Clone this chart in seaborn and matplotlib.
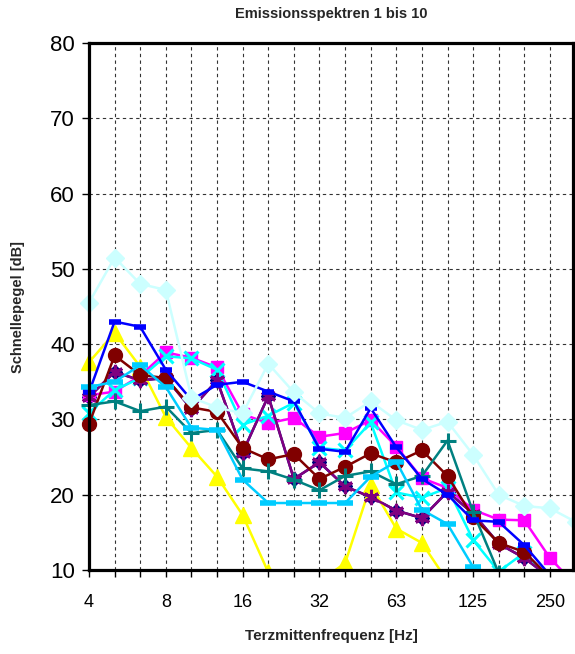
import numpy as np
import pandas as pd
import seaborn as sns
import matplotlib.pyplot as plt
from matplotlib.patches import Rectangle

nan = np.nan

# Terzmittenfrequenzen (category positions 0..19)
freqs = ["4", "5", "6.3", "8", "10", "12.5", "16", "20", "25", "32",
         "40", "50", "63", "80", "100", "125", "160", "200", "250", "315"]
tick_labels = ["4", "", "", "8", "", "", "16", "", "", "32",
               "", "", "63", "", "", "125", "", "", "250"]

# Schnellepegel in dB
s1 = [33.0, 36.3, 35.2, 35.5, 31.4, 35.2, 25.6, 33.1, 22.1, 24.3,
      21.1, 19.7, 17.9, 16.9, 20.4, 17.5, 13.5, 11.6, 9.0, nan]
s2 = [33.2, 33.7, 35.8, 38.9, 38.2, 36.9, 30.7, 29.5, 30.2, 27.7,
      28.2, 29.9, 26.4, 22.2, 20.9, 18.0, 16.7, 16.6, 11.6, 8.0]
s3 = [37.6, 41.5, 37.0, 30.3, 26.2, 22.4, 17.3, 9.7, 5.0, 8.5,
      10.9, 21.3, 15.5, 13.6, 8.5, nan, nan, nan, nan, nan]
s4 = [30.9, 33.9, 35.5, 38.4, 38.1, 36.6, 29.3, 30.5, 32.2, 26.2,
      25.9, 29.6, 20.3, 19.6, 20.9, 14.0, 9.8, 12.3, 8.5, nan]
s5 = [33.0, 36.3, 35.2, 35.5, 31.4, 35.2, 25.6, 33.1, 22.1, 24.3,
      21.1, 19.7, 17.9, 16.9, 20.4, 17.5, 13.5, 11.6, 9.0, nan]
s6 = [29.4, 38.5, 35.9, 35.5, 31.6, 31.0, 26.2, 24.7, 25.4, 22.1,
      23.7, 25.5, 24.3, 25.9, 22.5, 17.0, 13.6, 12.4, 9.0, nan]
s7 = [31.9, 32.4, 31.1, 31.7, 28.2, 28.6, 23.5, 23.1, 22.0, 20.6,
      22.5, 23.1, 21.4, 22.5, 27.2, 17.7, 9.6, 8.0, nan, nan]
s8 = [33.6, 43.0, 42.3, 36.6, 32.6, 34.6, 35.0, 33.7, 32.4, 26.1,
      25.7, 31.5, 26.3, 22.1, 20.0, 16.6, 16.4, 13.3, 9.3, nan]
s9 = [34.3, 35.0, 37.2, 34.3, 28.9, 28.6, 22.0, 18.9, 18.9, 18.9,
      18.9, 22.4, 24.4, 18.0, 16.1, 10.4, 5.0, nan, nan, nan]
s10 = [45.5, 51.5, 48.0, 47.2, 32.9, 31.6, 30.8, 37.4, 33.6, 30.8,
       30.2, 32.4, 29.9, 28.6, 29.7, 25.3, 20.0, 18.5, 18.2, 16.4]

pos = np.arange(len(freqs))

# color, marker, markersize, markeredgewidth (Excel default series look)
styles = [
    (s1, "#000080", "D", 7, 1),
    (s2, "#FF00FF", "s", 9, 1),
    (s3, "#FFFF00", "^", 12, 1),
    (s4, "#00FFFF", "x", 10, 2.2),
    (s5, "#800080", (6, 2, 0), 11, 2.2),
    (s6, "#800000", "o", 10, 1),
    (s7, "#008080", "+", 12, 2.2),
    (s8, "#0000FF", "_", 8, 4),
    (s9, "#00CCFF", "_", 12, 4),
    (s10, "#CCFFFF", "D", 9, 1),
]

sns.set_theme(style="white")
plt.rcParams['font.family'] = ['Liberation Sans', 'DejaVu Sans']

fig = plt.figure(figsize=(5.75, 6.54), dpi=100)
ax = fig.add_axes([0.1548, 0.1284, 0.8417, 0.8059])

for vals, color, marker, ms, mew in styles:
    df = pd.DataFrame({"pos": pos, "dB": vals}).dropna()
    sns.lineplot(data=df, x="pos", y="dB", ax=ax, color=color, marker=marker,
                 markersize=ms, markeredgewidth=mew, markeredgecolor=color,
                 markerfacecolor=color, linewidth=1.8, legend=False)

# let markers at the first category spill over the left axis like the original
for line in ax.lines:
    line.set_clip_path(Rectangle((-0.04, 0), 1.04, 1, transform=ax.transAxes))

ax.set_xlim(0, 18.9)
ax.set_ylim(10, 80)
ax.set_xticks(pos[:19])
ax.set_xticklabels(tick_labels)
ax.set_yticks(range(10, 81, 10))
ax.set_xlabel("")
ax.set_ylabel("")

ax.set_axisbelow(True)
ax.grid(True, color="#333333", linestyle=(0, (3, 3)), linewidth=0.8)
ax.tick_params(axis="x", bottom=True, direction="out", length=5, width=1,
               color="black", labelsize=13, pad=12, labelcolor="black")
ax.tick_params(axis="y", left=True, direction="out", length=5, width=1,
               color="black", labelsize=16, pad=5, labelcolor="black")
for sp in ax.spines.values():
    sp.set_color("black")
    sp.set_linewidth(2.3)

fig.text(0.576, 0.979, "Emissionsspektren 1 bis 10", ha="center", va="center",
         fontsize=10.5, fontweight="bold")
fig.text(0.031, 0.531, "Schnellepegel [dB]", ha="center", va="center",
         rotation=90, fontsize=10.5, fontweight="bold")
fig.text(0.576, 0.027, "Terzmittenfrequenz [Hz]", ha="center", va="center",
         fontsize=11, fontweight="bold")

fig.savefig("out.png", dpi=100)
